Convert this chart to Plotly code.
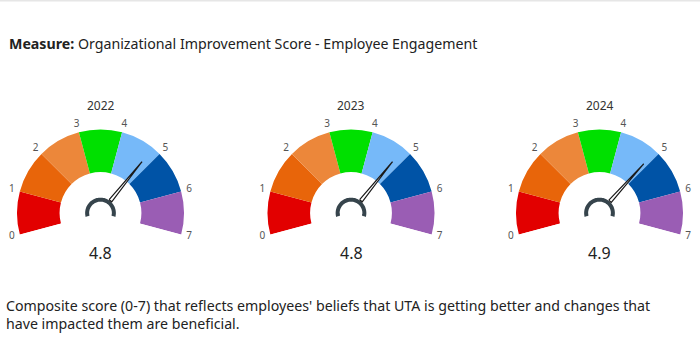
import math
import plotly.graph_objects as go

# ---- data ----
years = ["2022", "2023", "2024"]
scores = [4.8, 4.8, 4.9]
scale_min = 0
scale_max = 7
tick_labels = ["0", "1", "2", "3", "4", "5", "6", "7"]
band_colors = ["#E20000", "#E8650A", "#EC873A", "#00E000", "#76B9F9", "#0053A6", "#9A5DB4"]

measure_label = "Measure:"
measure_name = "Organizational Improvement Score - Employee Engagement"
description = ("Composite score (0-7) that reflects employees' beliefs that UTA is getting better and changes that"
               "<br>have impacted them are beneficial.")

# ---- layout / style constants ----
W, H = 700, 342
SPAN = 210.0                    # degrees covered by the gauge
EXTRA = (SPAN - 180.0) / 2.0    # degrees below horizontal on each side
CENTERS_X = [100.5, 351.0, 599.5]
CENTER_Y = 213.0
R_PX = 83.5                     # pixel radius of outer edge (r = 1)
RMAX = 1.2                      # radial range, leaves room for labels
INNER = 0.49
HUB_R = 0.16
NEEDLE_BASE = 0.19
NEEDLE_TIP = 0.79
NEEDLE_HALF = 6.0
LABEL_R = 1.10
FONT = "Noto Sans, Segoe UI, sans-serif"


def deg(v):
    return (v - scale_min) / (scale_max - scale_min) * SPAN


fig = go.Figure()
RP = R_PX * RMAX
below = RP * math.sin(math.radians(EXTRA))
n_bands = len(band_colors)
band_w = SPAN / n_bands

for k, (yr, sc) in enumerate(zip(years, scores)):
    pid = "polar" if k == 0 else f"polar{k+1}"
    cx = CENTERS_X[k]
    x0 = (cx - RP) / W
    x1 = (cx + RP) / W
    y1 = 1 - (CENTER_Y - RP) / H
    y0 = 1 - (CENTER_Y + below) / H
    fig.update_layout(**{pid: dict(
        domain=dict(x=[x0, x1], y=[y0, y1]),
        sector=[-EXTRA, 180 + EXTRA],
        bgcolor="rgba(0,0,0,0)",
        radialaxis=dict(range=[0, RMAX], visible=False, showgrid=False),
        angularaxis=dict(visible=False, showgrid=False, direction="clockwise",
                         rotation=180 + EXTRA, thetaunit="degrees"),
    )})
    # bands
    fig.add_trace(go.Barpolar(
        r=[1 - INNER] * n_bands,
        base=[INNER] * n_bands,
        theta=[deg(i + 0.5) for i in range(n_bands)],
        width=[band_w] * n_bands,
        marker=dict(color=band_colors, line=dict(width=0)),
        subplot=pid, showlegend=False, hoverinfo="skip",
    ))
    # hub arc
    hub_t = [SPAN * j / 60 for j in range(61)]
    fig.add_trace(go.Scatterpolar(
        r=[HUB_R] * len(hub_t), theta=hub_t, mode="lines",
        line=dict(color="#36444C", width=4),
        subplot=pid, showlegend=False, hoverinfo="skip",
    ))
    # needle
    a = deg(sc)
    fig.add_trace(go.Scatterpolar(
        r=[NEEDLE_BASE, NEEDLE_TIP, NEEDLE_BASE, NEEDLE_BASE],
        theta=[a - NEEDLE_HALF, a, a + NEEDLE_HALF, a - NEEDLE_HALF],
        mode="lines", fill="toself", fillcolor="white",
        line=dict(color="#1A1A1A", width=1.2),
        subplot=pid, showlegend=False, hoverinfo="skip",
    ))
    # tick labels
    fig.add_trace(go.Scatterpolar(
        r=[LABEL_R] * len(tick_labels),
        theta=[deg(int(t)) for t in tick_labels],
        mode="text", text=tick_labels,
        textfont=dict(family=FONT, size=10, color="#555555"),
        cliponaxis=False,
        subplot=pid, showlegend=False, hoverinfo="skip",
    ))
    # title and value
    fig.add_annotation(x=cx / W, y=1 - 105 / H, xref="paper", yref="paper",
                       text=yr, showarrow=False,
                       font=dict(family=FONT, size=12, color="#333333"),
                       xanchor="center", yanchor="middle")
    fig.add_annotation(x=cx / W, y=1 - 253 / H, xref="paper", yref="paper",
                       text=f"{sc:.1f}", showarrow=False,
                       font=dict(family=FONT, size=16, color="#222222"),
                       xanchor="center", yanchor="middle")

fig.add_annotation(x=7 / W, y=1 - 43 / H, xref="paper", yref="paper",
                   text=f"<b>{measure_label}</b> {measure_name}", showarrow=False,
                   font=dict(family=FONT, size=14.2, color="#222222"),
                   xanchor="left", yanchor="middle", align="left")
fig.add_annotation(x=4 / W, y=1 - 314 / H, xref="paper", yref="paper",
                   text=description, showarrow=False,
                   font=dict(family=FONT, size=14.2, color="#222222"),
                   xanchor="left", yanchor="middle", align="left")

fig.add_shape(type="line", xref="paper", yref="paper", x0=0, x1=1, y0=1, y1=1,
              line=dict(color="#E6E6E6", width=3))

fig.update_layout(width=W, height=H, margin=dict(l=0, r=0, t=0, b=0),
                  paper_bgcolor="white", plot_bgcolor="white")

fig.write_html("out.html")
